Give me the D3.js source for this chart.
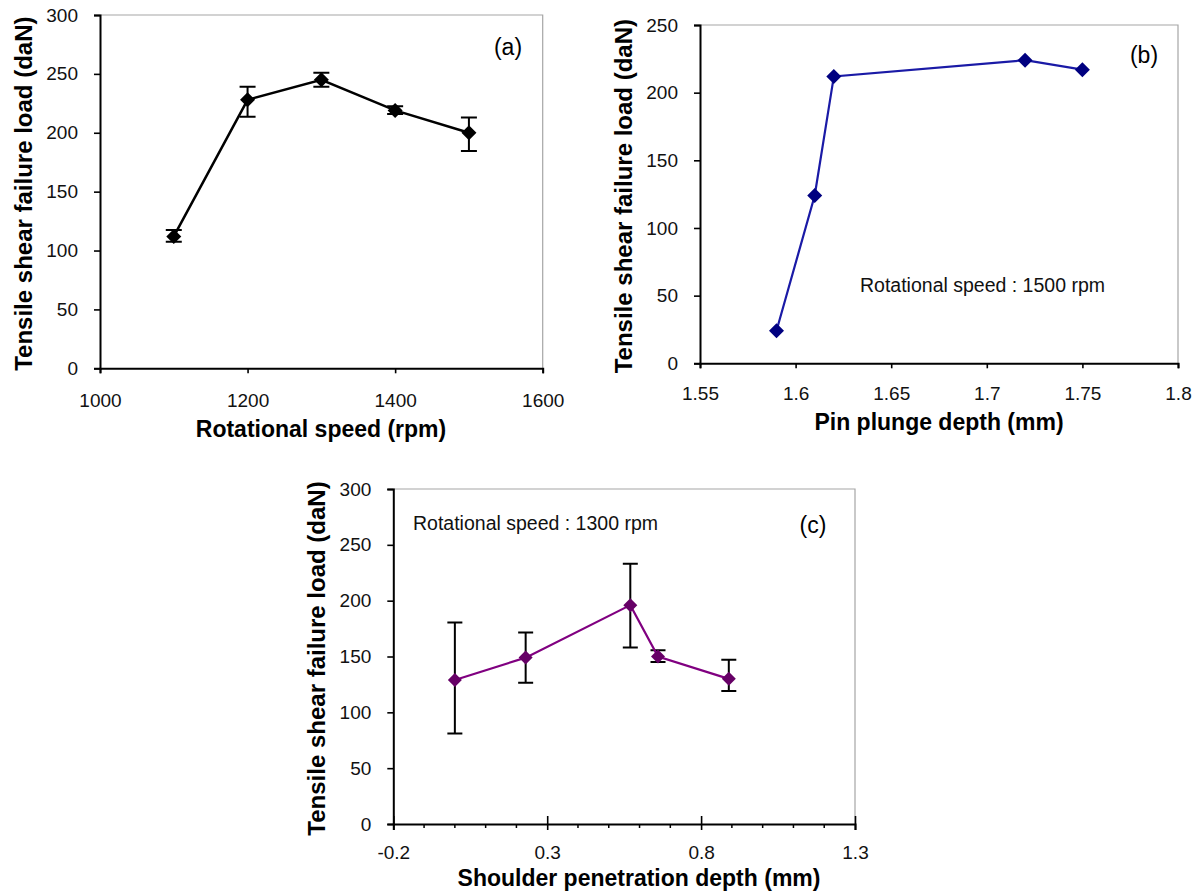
<!DOCTYPE html>
<html>
<head>
<meta charset="utf-8">
<script src="https://cdn.jsdelivr.net/npm/d3@7"></script>
<style>
  html, body { margin: 0; padding: 0; background: #fff; }
  svg { display: block; font-family: "Liberation Sans", Arial, sans-serif; }
</style>
</head>
<body>
<svg id="chart" width="1201" height="893"></svg>
<script>
// ---------- DATA ----------
// Panel (a)
const aSpeed   = [1100, 1200, 1300, 1400, 1500];
const aLoad    = [112, 228, 245, 219, 200];
const aErrLow  = [107.5, 213.5, 239, 216, 184.5];
const aErrHigh = [117.5, 239, 251, 222.5, 213];
const aXTicks  = [1000, 1200, 1400, 1600];
const aYTicks  = [0, 50, 100, 150, 200, 250, 300];

// Panel (b)
const bDepth   = [1.59, 1.61, 1.62, 1.72, 1.75];
const bLoad    = [24, 124, 212, 224, 217];
const bXTicks  = [1.55, 1.6, 1.65, 1.7, 1.75, 1.8];
const bYTicks  = [0, 50, 100, 150, 200, 250];

// Panel (c)
const cDepth   = [0, 0.23, 0.57, 0.66, 0.89];
const cLoad    = [129, 149, 196, 150, 130];
const cErrLow  = [81, 126.5, 158, 145, 119];
const cErrHigh = [180.5, 171.5, 233, 155.5, 147];
const cXTicks  = [-0.2, 0.3, 0.8, 1.3];
const cXMinor  = [-0.1, 0, 0.1, 0.2, 0.4, 0.5, 0.6, 0.7, 0.9, 1.0, 1.1, 1.2];
const cYTicks  = [0, 50, 100, 150, 200, 250, 300];

const yTitle = "Tensile shear failure load (daN)";

// ---------- DRAW ----------
const svg = d3.select("#chart");

function diamond(r) {
  return `M0,${-r}L${r},0L0,${r}L${-r},0Z`;
}

function panel(cfg) {
  const g = svg.append("g");
  const x = d3.scaleLinear().domain(cfg.xDomain).range([cfg.left, cfg.right]);
  const y = d3.scaleLinear().domain(cfg.yDomain).range([cfg.bottom, cfg.top]);

  // plot-area frame (top & right light grey)
  g.append("path")
    .attr("d", `M${cfg.left},${cfg.top}H${cfg.right}V${cfg.bottom}`)
    .attr("fill", "none").attr("stroke", "#a6a6a6").attr("stroke-width", 1.2);

  // minor ticks (c)
  if (cfg.xMinor) {
    g.append("g").selectAll("line").data(cfg.xMinor).join("line")
      .attr("x1", d => x(d)).attr("x2", d => x(d))
      .attr("y1", cfg.bottom).attr("y2", cfg.bottom + 4)
      .attr("stroke", "#000").attr("stroke-width", 1.5);
  }

  // x axis
  const xAxis = d3.axisBottom(x).tickValues(cfg.xTicks).tickSizeOuter(0)
    .tickSize(cfg.xTickSize).tickPadding(cfg.xPad).tickFormat(cfg.xFormat || d3.format("d"));
  const gx = g.append("g").attr("transform", `translate(0,${cfg.bottom})`).call(xAxis);
  gx.select(".domain").attr("stroke", "#000").attr("stroke-width", 2);
  gx.selectAll(".tick line").attr("stroke", "#000").attr("stroke-width", 1.6);
  if (cfg.xTickUp) gx.selectAll(".tick line").attr("y1", -cfg.xTickUp);
  gx.selectAll(".tick text").attr("font-size", 19).attr("fill", "#111")
    .attr("font-family", "'Liberation Sans', Arial, sans-serif");

  // y axis
  const yAxis = d3.axisLeft(y).tickValues(cfg.yTicks).tickSizeOuter(0)
    .tickSize(6).tickPadding(16).tickFormat(d3.format("d"));
  const gy = g.append("g").attr("transform", `translate(${cfg.left},0)`).call(yAxis);
  gy.select(".domain").attr("stroke", "#000").attr("stroke-width", 2);
  gy.selectAll(".tick line").attr("stroke", "#000").attr("stroke-width", 1.6);
  gy.selectAll(".tick text").attr("font-size", 19).attr("fill", "#111")
    .attr("font-family", "'Liberation Sans', Arial, sans-serif");

  // error bars
  if (cfg.errLow) {
    const eb = g.append("g").attr("stroke", "#000").attr("stroke-width", 2).attr("fill", "none");
    cfg.xs.forEach((xv, i) => {
      const cx = x(xv), y1 = y(cfg.errLow[i]), y2 = y(cfg.errHigh[i]);
      const w = cfg.cap;
      eb.append("path").attr("d", `M${cx},${y1}V${y2}M${cx - w},${y1}H${cx + w}M${cx - w},${y2}H${cx + w}`);
    });
  }

  // line
  const pts = cfg.xs.map((xv, i) => [xv, cfg.ys[i]]);
  g.append("path").datum(pts)
    .attr("d", d3.line().x(d => x(d[0])).y(d => y(d[1])))
    .attr("fill", "none").attr("stroke", cfg.lineColor).attr("stroke-width", cfg.lineWidth);

  // markers
  g.append("g").selectAll("path").data(pts).join("path")
    .attr("transform", d => `translate(${x(d[0])},${y(d[1])})`)
    .attr("d", diamond(cfg.marker))
    .attr("fill", cfg.markerColor);

  // axis titles
  g.append("text")
    .attr("transform", `translate(${cfg.left - 77},${(cfg.top + cfg.bottom) / 2 + 2}) rotate(-90)`)
    .attr("text-anchor", "middle").attr("dominant-baseline", "central")
    .attr("font-size", 24).attr("font-weight", "bold").attr("fill", "#000")
    .text(yTitle);
  g.append("text")
    .attr("x", cfg.xTitleX).attr("y", cfg.xTitleY)
    .attr("text-anchor", "middle")
    .attr("font-size", 23).attr("font-weight", "bold").attr("fill", "#000")
    .text(cfg.xTitle);

  // panel letter
  g.append("text").attr("x", cfg.tagX).attr("y", cfg.tagY)
    .attr("text-anchor", "middle").attr("font-size", 23).attr("fill", "#000")
    .text(cfg.tag);

  if (cfg.note) {
    g.append("text").attr("x", cfg.noteX).attr("y", cfg.noteY)
      .attr("font-size", 19.5).attr("fill", "#111").text(cfg.note);
  }
}

panel({
  left: 100, right: 542.7, top: 15, bottom: 368.3,
  xDomain: [1000, 1600], yDomain: [0, 300],
  xTicks: aXTicks, yTicks: aYTicks, xTickSize: 5, xPad: 20,
  xs: aSpeed, ys: aLoad, errLow: aErrLow, errHigh: aErrHigh, cap: 8,
  lineColor: "#000", lineWidth: 2.5, markerColor: "#000", marker: 7.5,
  xTitle: "Rotational speed (rpm)", xTitleX: 321, xTitleY: 437,
  tag: "(a)", tagX: 508, tagY: 55
});

panel({
  left: 700, right: 1178, top: 25, bottom: 363.3,
  xDomain: [1.55, 1.8], yDomain: [0, 250],
  xTicks: bXTicks, yTicks: bYTicks, xTickSize: 5, xPad: 18,
  xFormat: d => String(+d.toFixed(2)),
  xs: bDepth, ys: bLoad,
  lineColor: "#1a1aa6", lineWidth: 2.2, markerColor: "#000080", marker: 7.5,
  xTitle: "Pin plunge depth (mm)", xTitleX: 939, xTitleY: 430,
  tag: "(b)", tagX: 1144, tagY: 63,
  note: "Rotational speed : 1500 rpm", noteX: 860, noteY: 292
});

panel({
  left: 393.3, right: 855, top: 489, bottom: 824,
  xDomain: [-0.2, 1.3], yDomain: [0, 300],
  xTicks: cXTicks, yTicks: cYTicks, xTickSize: 6, xTickUp: 8, xPad: 15.5, xMinor: cXMinor,
  xFormat: d => String(+d.toFixed(1)),
  xs: cDepth, ys: cLoad, errLow: cErrLow, errHigh: cErrHigh, cap: 7.5,
  lineColor: "#800080", lineWidth: 2.2, markerColor: "#660066", marker: 7,
  xTitle: "Shoulder penetration depth (mm)", xTitleX: 639, xTitleY: 886,
  tag: "(c)", tagX: 813, tagY: 533,
  note: "Rotational speed : 1300 rpm", noteX: 413, noteY: 530
});
</script>
</body>
</html>
